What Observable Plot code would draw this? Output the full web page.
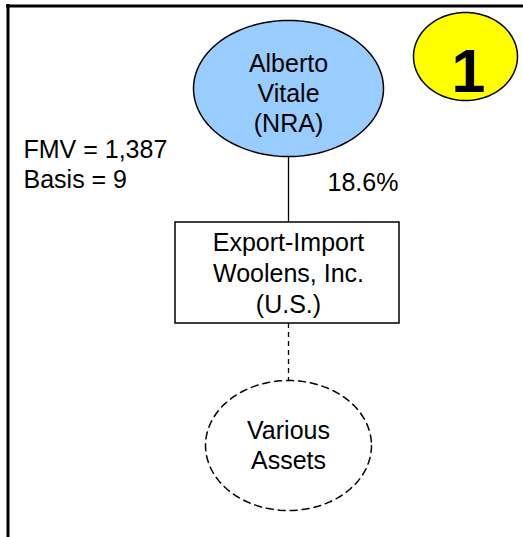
<!DOCTYPE html>
<html><head><meta charset="utf-8">
<script src="https://cdn.jsdelivr.net/npm/d3@7"></script>
<script src="https://cdn.jsdelivr.net/npm/@observablehq/plot@0.6"></script>
<style>body{margin:0;background:#fff}svg{display:block}</style>
</head><body><div id="chart"></div>
<script>
// Diagram content
const ellipseNodes = [
  {name: "owner", cx: 288, cy: 88, rx: 95, ry: 68, fill: "#99CCFF", dashed: false},
  {name: "badge", cx: 465, cy: 56, rx: 52, ry: 44, fill: "#FFFF00", dashed: false},
  {name: "assets", cx: 288, cy: 445, rx: 83, ry: 65, fill: "white", dashed: true}
];
const ownerLines = ["Alberto", "Vitale", "(NRA)"];
const companyLines = ["Export-Import", "Woolens, Inc.", "(U.S.)"];
const assetLines = ["Various", "Assets"];
const badgeLabel = "1";
const valueLines = ["FMV = 1,387", "Basis = 9"];
const ownershipPct = "18.6%";

const boxes = [{x1: 175, x2: 399, y1: 222, y2: 323}];
const links = [
  {x: 288, y1: 156, y2: 222, dashed: false},
  {x: 288, y1: 323, y2: 380, dashed: true}
];

function ellipsePts(e) {
  const pts = [];
  for (let i = 0; i < 120; i++) {
    const t = (i / 120) * 2 * Math.PI;
    pts.push({x: e.cx + e.rx * Math.cos(t), y: e.cy + e.ry * Math.sin(t), name: e.name});
  }
  return pts;
}

const font = "Arial, 'Liberation Sans', sans-serif";
const marks = [];
// frame borders (top and left)
marks.push(Plot.ruleY([5.5], {x1: 6, x2: 523, stroke: "black", strokeWidth: 3}));
marks.push(Plot.ruleX([7.5], {y1: 4, y2: 537, stroke: "black", strokeWidth: 3}));

// connectors
for (const l of links) {
  marks.push(Plot.ruleX([l.x], {y1: l.y1, y2: l.y2, stroke: "black", strokeWidth: 1.3,
    strokeDasharray: l.dashed ? "5,4" : null}));
}
// box
marks.push(Plot.rect(boxes, {x1: "x1", x2: "x2", y1: "y1", y2: "y2", fill: "white", stroke: "black", strokeWidth: 1.5}));
// ellipses
for (const e of ellipseNodes) {
  marks.push(Plot.line(ellipsePts(e), {x: "x", y: "y", curve: "linear-closed", fill: e.fill,
    stroke: "black", strokeWidth: 1.5, strokeDasharray: e.dashed ? "7,5" : null}));
}

const txt = (lines, x, y0, step, opts = {}) => Plot.text(lines.map((t, i) => ({t, y: y0 + i * step})),
  {x: () => x, y: "y", text: "t", lineAnchor: "bottom", fontSize: 25, fill: "black", fontFamily: font, ...opts});

marks.push(txt(ownerLines, 288, 71, 30));
marks.push(txt(companyLines, 288, 250, 31));
marks.push(txt(assetLines, 288, 438, 30));
marks.push(txt(valueLines, 23, 157, 30, {textAnchor: "start"}));
marks.push(txt([ownershipPct], 327, 190, 0, {textAnchor: "start"}));
marks.push(txt([badgeLabel], 468, 91, 0, {fontSize: 61, fontWeight: "bold"}));

const chart = Plot.plot({
  width: 523, height: 537,
  margin: 0,
  x: {domain: [0, 523], range: [0, 523], axis: null},
  y: {domain: [0, 537], range: [0, 537], axis: null},
  style: {fontFamily: font, background: "white"},
  marks
});
document.getElementById("chart").append(chart);
</script></body></html>
